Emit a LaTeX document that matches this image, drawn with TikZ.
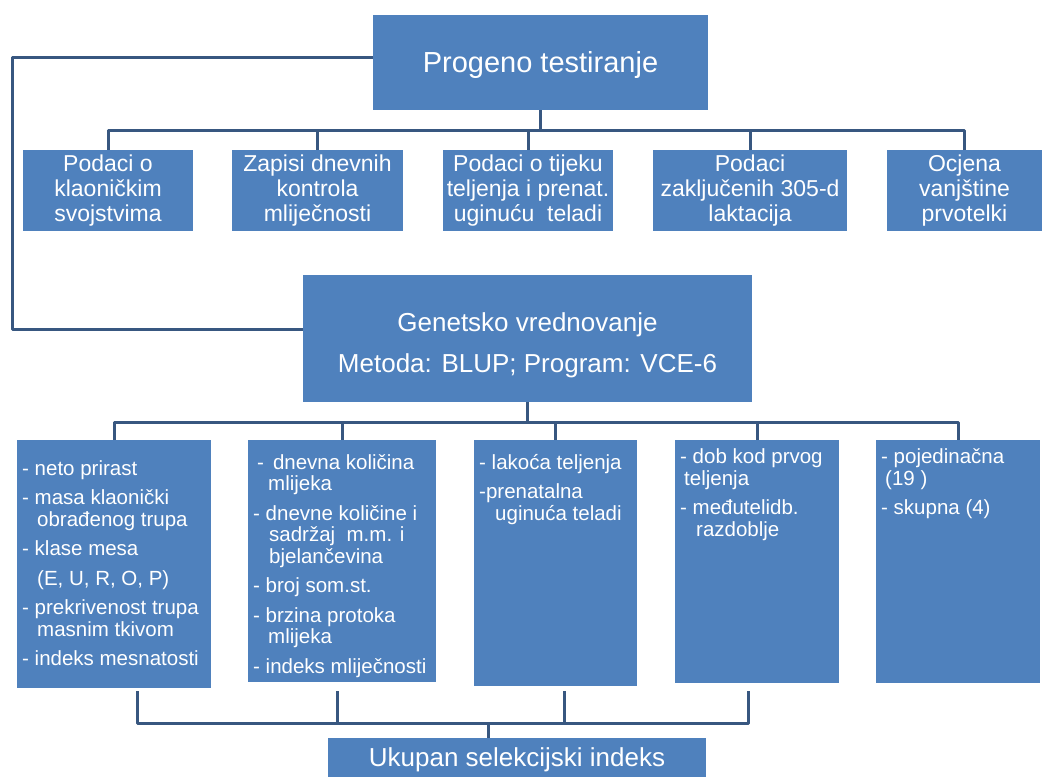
\documentclass[tikz,border=0pt]{standalone}
\usepackage{fontspec}
\setmainfont{Liberation Sans}
\definecolor{boxblue}{RGB}{79,129,189}
\definecolor{lineblue}{RGB}{56,87,128}
\begin{document}
\begin{tikzpicture}[x=1pt,y=-1pt,
  box/.style={rectangle, fill=boxblue, draw=none, inner sep=0pt, text=white},
  conn/.style={draw=lineblue, line width=3pt, line join=round},
  r1txt/.style={align=center, font=\fontsize{23}{25}\selectfont},
  r2txt/.style={anchor=north west, align=left, inner sep=0pt, text=white, font=\fontsize{20.5}{21.5}\selectfont}
]
\path[use as bounding box, clip] (0,0) rectangle (1046,776);
\fill[white] (0,0) rectangle (1046,776);

% top
\node[box, minimum width=335pt, minimum height=95pt] (top) at (540.5,62.5) {};
\node[text=white, inner sep=0pt, font=\fontsize{29}{34}\selectfont] (toptxt) at ([yshift=-3pt]top.center) {Progeno testiranje};

% row 1
\node[box, r1txt, minimum width=170pt, minimum height=81pt] (r1a) at (108,190.5) {Podaci o\\klaoničkim\\svojstvima};
\node[box, r1txt, minimum width=171pt, minimum height=81pt] (r1b) at (317.5,190.5) {Zapisi dnevnih\\kontrola\\mliječnosti};
\node[box, r1txt, minimum width=170pt, minimum height=81pt] (r1c) at (528,190.5) {Podaci o tijeku\\teljenja i prenat.\\uginuću\ \ teladi};
\node[box, r1txt, minimum width=194pt, minimum height=81pt] (r1d) at (750,190.5) {Podaci\\zaključenih 305-d\\laktacija};
\node[box, r1txt, minimum width=155pt, minimum height=81pt] (r1e) at (964.5,190.5) {Ocjena\\vanjštine\\prvotelki};

% genetic evaluation
\node[box, minimum width=449pt, minimum height=127pt] (gen) at (527.5,338.5) {};
\node[text=white, inner sep=0pt, align=center, font=\fontsize{26}{41}\selectfont] (gentxt) at ([yshift=-7pt]gen.center) {Genetsko vrednovanje\\Metoda: BLUP; Program: VCE-6};

% row 2 boxes
\node[box, minimum width=194pt, minimum height=248pt] (r2a) at (114,564) {};
\node[box, minimum width=188pt, minimum height=242pt] (r2b) at (342,561) {};
\node[box, minimum width=163pt, minimum height=246pt] (r2c) at (555.5,563) {};
\node[box, minimum width=164pt, minimum height=243pt] (r2d) at (757,561.5) {};
\node[box, minimum width=164pt, minimum height=243pt] (r2e) at (958,561.5) {};

% row 2 texts
\node[r2txt] (t2a) at (22,460) {- neto prirast\\[8pt]
- masa klaonički\\
\hspace*{15pt}obrađenog trupa\\[8pt]
- klase mesa\\[8pt]
\hspace*{15pt}(E, U, R, O, P)\\[8pt]
- prekrivenost trupa\\
\hspace*{15pt}masnim tkivom\\[8pt]
- indeks mesnatosti};
\node[r2txt] (t2b) at (253,454) {\hspace*{4pt}-\hspace{9pt}dnevna količina\\
\hspace*{15pt}mlijeka\\[8pt]
- dnevne količine i\\
\hspace*{16pt}sadržaj\ \ m.m. i\\
\hspace*{16pt}bjelančevina\\[8pt]
- broj som.st.\\[8pt]
- brzina protoka\\
\hspace*{15pt}mlijeka\\[8pt]
- indeks mliječnosti};
\node[r2txt] (t2c) at (479,454) {- lakoća teljenja\\[8pt]
-prenatalna\\
\hspace*{16pt}uginuća teladi};
\node[r2txt] (t2d) at (680,448.5) {- dob kod prvog\\
\hspace*{4pt}teljenja\\[8pt]
- međutelidb.\\
\hspace*{16pt}razdoblje};
\node[r2txt] (t2e) at (881,448.5) {- pojedinačna\\
\hspace*{4pt}(19 )\\[8pt]
- skupna (4)};

% total index
\node[box, minimum width=378pt, minimum height=44pt, font=\fontsize{26}{30}\selectfont] (sel) at (517,760) {Ukupan selekcijski indeks};

% connectors
\coordinate (bus1) at (0,130);
\coordinate (bus2) at (0,422);
\coordinate (b2top) at (0,691);
\coordinate (bus3) at (0,723);
\coordinate (lc) at (12,200);

\foreach \n in {r1a,r1b,r1c,r1d,r1e}
  \draw[conn] (top.south) -- (top.south |- bus1) -| (\n.north);

\draw[conn] ([yshift=4.5pt]top.west) -| (lc) |- ([yshift=9.5pt]gen.west);

\foreach \n in {r2a,r2b,r2c,r2d,r2e}
  \draw[conn] (gen.south) -- (gen.south |- bus2) -| (\n.north);

\coordinate (d1) at ([xshift=23pt]r2a.south);
\coordinate (d2) at ([xshift=-5pt]r2b.south);
\coordinate (d3) at ([xshift=8.5pt]r2c.south);
\coordinate (d4) at ([xshift=-9pt]r2d.south);
\coordinate (sx) at ([xshift=-29pt]sel.north);
\foreach \d in {d1,d2,d3,d4}
  \draw[conn] (\d |- b2top) -- (\d |- bus3) -| (sx);
\end{tikzpicture}
\end{document}
